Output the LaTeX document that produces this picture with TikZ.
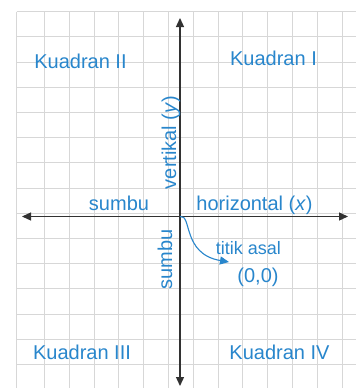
\documentclass[tikz,border=0pt]{standalone}
\usepackage{fontspec}
\setmainfont{Liberation Sans}
\usetikzlibrary{arrows.meta}
\definecolor{txtblue}{RGB}{40,134,204}
\definecolor{gridgray}{RGB}{215,215,215}
\definecolor{axisgray}{RGB}{50,50,50}
\begin{document}
\begin{tikzpicture}[x=1pt,y=-1pt,
  lbl/.style={text=txtblue, font=\fontsize{20}{24}\selectfont, inner sep=0pt, anchor=base},
  small/.style={text=txtblue, font=\fontsize{18}{22}\selectfont, inner sep=0pt, anchor=base},
  axis/.style={draw=axisgray, line width=1.3pt, {Triangle[length=9pt,width=8pt]}-{Triangle[length=9pt,width=8pt]}},
  gridline/.style={draw=gridgray, line width=0.9pt},
  curve/.style={draw=txtblue, line width=1.1pt, -{Triangle[length=9pt,width=8pt]}}]
\useasboundingbox (0,0) rectangle (356,388);
\fill[white] (0,0) rectangle (356,388);
% grid
\draw[gridline] (16.7,11.7) -- (16.7,388);
\foreach \i in {0,...,12} \draw[gridline] ({44.5+24.8*\i},11.7) -- ({44.5+24.8*\i},388);
\foreach \j in {0,...,14} \draw[gridline] (16.7,{11.7+25.2*\j}) -- (356,{11.7+25.2*\j});
% axes
\coordinate (L) at (22,216.5);
\coordinate (R) at (348,216.5);
\coordinate (T) at (180,18);
\coordinate (B) at (180,386);
\coordinate (O) at (180,216.5);
\coordinate (E) at (229,262);
\draw[axis] (L) -- (R);
\draw[axis] (B) -- (T);
% labels
\node[lbl] (q2) at (80.5,68) {Kuadran II};
\node[lbl] (q1) at (273.5,65) {Kuadran I};
\node[lbl] (q3) at (82,359.5) {Kuadran III};
\node[lbl] (q4) at (279.5,359.5) {Kuadran IV};
\node[lbl] (sx) at (119,210.5) {sumbu};
\node[lbl] (hx) at (254.5,210.5) {horizontal (\textit{x})};
\node[lbl, rotate=90] (vy) at (176,142.5) {vertikal (\textit{y})};
\node[lbl, rotate=90] (sy) at (172,259.5) {sumbu};
\node[small] (ta) at (248.5,254) {titik asal};
\node[lbl] (oo) at (258,282) {(0,0)};
% origin arrow
\draw[curve] (O) .. controls (192,214) and (182,254) .. (E);
\end{tikzpicture}
\end{document}
